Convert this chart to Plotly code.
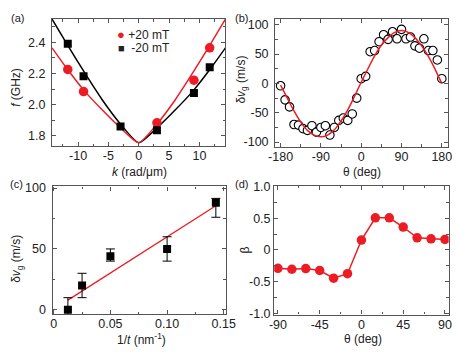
import plotly.graph_objects as go

# (a) dispersion, +20 mT (red) and -20 mT (black)
k_red = [-11.7, -9.1, 3.0, 9.1, 11.7]
f_red = [2.226, 2.084, 1.883, 2.157, 2.365]
k_blk = [-11.7, -9.1, -3.0, 3.0, 9.1, 11.7]
f_blk = [2.392, 2.182, 1.86, 1.835, 2.074, 2.24]
k_fit = [-14.3, -12, -9, -6, -3, 0, 3, 6, 9, 12, 14.3]
f_fit_red = [2.365, 2.24, 2.09, 1.965, 1.85, 1.755, 1.875, 2.03, 2.21, 2.40, 2.55]
f_fit_blk = [2.55, 2.40, 2.21, 2.03, 1.875, 1.755, 1.85, 1.965, 2.09, 2.24, 2.365]

# (b) group velocity shift vs angle
theta_b = list(range(-180, 181, 10))
dv_b = [-4, -28, -40, -70, -71, -77, -80, -72, -83, -75, -72, -88, -75, -63, -59, -63, -52, -25, 8,
        12, 54, 56, 71, 83, 75, 88, 76, 92, 76, 79, 64, 60, 76, 56, 56, 40, 8]
theta_fit = list(range(-180, 181, 15))
dv_fit = [-3, -25, -47, -66, -80, -88, -91, -88, -79, -64, -45, -22, 2,
          25, 47, 65, 78, 87, 90, 87, 78, 64, 46, 24, 0]

# (c) shift vs inverse thickness
inv_t = [0.0125, 0.025, 0.05, 0.10, 0.143]
dv_c = [0, 20, 44, 50, 88]
err_up = [10, 10, 6, 10, 3.5]
err_dn = [10, 10, 4, 10, 12]
line_x = [0.0125, 0.143]
line_y = [8, 85.5]

# (d) beta vs angle
theta_d = list(range(-90, 91, 15))
beta = [-0.29, -0.305, -0.295, -0.325, -0.445, -0.375, 0.155, 0.505, 0.505, 0.36, 0.19, 0.175, 0.165]

RED = '#ec1c24'
FONT = 'Liberation Sans, Arial, sans-serif'
AX = '#555'
W, H = 468, 359


def axis(domain, rng, vals, text, minor, anchor, standoff=3):
    return dict(domain=domain, range=rng, tickvals=vals, ticktext=text,
                showline=True, linecolor=AX, linewidth=1.3, mirror='ticks',
                ticks='inside', ticklen=4, tickcolor=AX, tickwidth=1,
                showgrid=False, zeroline=False, anchor=anchor,
                tickfont=dict(size=12.5, color='#222'), ticklabelstandoff=standoff,
                minor=dict(ticks='inside', ticklen=2.5, dtick=minor, tickcolor=AX, showgrid=False))


fig = go.Figure()

# (a)
fig.add_trace(go.Scatter(x=k_fit, y=f_fit_blk, mode='lines', line=dict(color='black', width=1.5, shape='spline', smoothing=0.6), xaxis='x', yaxis='y'))
fig.add_trace(go.Scatter(x=k_fit, y=f_fit_red, mode='lines', line=dict(color=RED, width=1.5, shape='spline', smoothing=0.6), xaxis='x', yaxis='y'))
fig.add_trace(go.Scatter(x=k_red, y=f_red, mode='markers', marker=dict(color=RED, size=9.5), xaxis='x', yaxis='y'))
fig.add_trace(go.Scatter(x=k_blk, y=f_blk, mode='markers', marker=dict(color='black', size=8, symbol='square'), xaxis='x', yaxis='y'))

# (b)
fig.add_trace(go.Scatter(x=theta_b, y=dv_b, mode='markers', marker=dict(color='white', size=8.5, line=dict(color='black', width=1.1)), xaxis='x2', yaxis='y2'))
fig.add_trace(go.Scatter(x=theta_fit, y=dv_fit, mode='lines', line=dict(color=RED, width=1.5, shape='spline'), xaxis='x2', yaxis='y2'))

# (c)
fig.add_trace(go.Scatter(x=line_x, y=line_y, mode='lines', line=dict(color=RED, width=1.3), xaxis='x3', yaxis='y3'))
fig.add_trace(go.Scatter(x=inv_t, y=dv_c, mode='markers', marker=dict(color='black', size=8, symbol='square'),
                         error_y=dict(type='data', symmetric=False, array=err_up, arrayminus=err_dn,
                                      color='black', thickness=1, width=4.5),
                         xaxis='x3', yaxis='y3'))

# (d)
fig.add_trace(go.Scatter(x=theta_d, y=beta, mode='lines+markers', line=dict(color=RED, width=1.5),
                         marker=dict(color=RED, size=9.5), xaxis='x4', yaxis='y4'))

fig.update_layout(
    width=W, height=H, margin=dict(l=0, r=0, t=0, b=0),
    paper_bgcolor='white', plot_bgcolor='white', showlegend=False,
    font=dict(family=FONT, size=12, color='#222'),
    xaxis=axis([0.0998, 0.4844], [-14.3, 14.3], [-10, -5, 0, 5, 10], ['-10', '-5', '0', '5', '10'], 2.5, 'y', standoff=-2),
    yaxis=axis([0.5961, 0.9624], [1.733, 2.55], [1.8, 2.0, 2.2, 2.4], ['1.8', '2.0', '2.2', '2.4'], 0.1, 'x'),
    xaxis2=axis([0.5947, 0.978], [-192, 194], [-180, -90, 0, 90, 180], ['-180', '-90', '0', '90', '180'], 45, 'y2', standoff=-2),
    yaxis2=axis([0.5942, 0.963], [-108, 110], [-100, -50, 0, 50, 100], ['-100', '-50', '0', '50', '100'], 25, 'x2'),
    xaxis3=axis([0.1011, 0.4857], [-0.001, 0.152], [0, 0.05, 0.10, 0.15], ['0', '0.05', '0.10', '0.15'], 0.025, 'y3', standoff=-2),
    yaxis3=axis([0.1114, 0.48], [-3.7, 101.3], [0, 50, 100], ['0', '50', '100'], 25, 'x3'),
    xaxis4=axis([0.5925, 0.9793], [-94, 94], [-90, -45, 0, 45, 90], ['-90', '-45', '0', '45', '90'], 22.5, 'y4', standoff=-2),
    yaxis4=axis([0.1106, 0.4819], [-1.02, 1.01], [-1, -0.5, 0, 0.5, 1], ['-1.0', '-0.5', '0', '0.5', '1.0'], 0.25, 'x4', standoff=0),
)


def note(text, xp, yp, size=12, angle=0, anchor='center'):
    fig.add_annotation(text=text, x=xp / W, y=1 - yp / H, xref='paper', yref='paper',
                       xanchor=anchor, yanchor='middle', showarrow=False, textangle=angle,
                       font=dict(size=size, color='#222'))


# axis titles
note('<i>k</i> (rad/μm)', 137, 172)
note('<i>f</i> (GHz)', 10, 84, angle=-90)
note('θ (deg)', 368, 172)
note('δ<i>v</i><sub>g</sub> (m/s)', 244, 76, angle=-90)
note('1/<i>t</i> (nm<sup>-1</sup>)', 140, 344)
note('δ<i>v</i><sub>g</sub> (m/s)', 11, 262, angle=-90)
note('θ (deg)', 369, 344)
note('β', 246, 253, angle=-90)

# panel letters
for lbl, xp, yp in [('(a)', 2, 12), ('(b)', 235, 12), ('(c)', 1, 184), ('(d)', 235, 184)]:
    note(lbl, xp, yp, size=11, anchor='left')

# legend of (a)
note(f"<span style='color:{RED};font-size:13px'>●</span> +20 mT", 112, 29.5, anchor='left')
note("<span style='font-size:11px'>■</span>  -20 mT", 113, 43, anchor='left')

# drop the default page margin so the figure sits at the window corner
fig.write_html("out.html", config={'displayModeBar': False},
               post_script="document.body.style.margin='0';")
